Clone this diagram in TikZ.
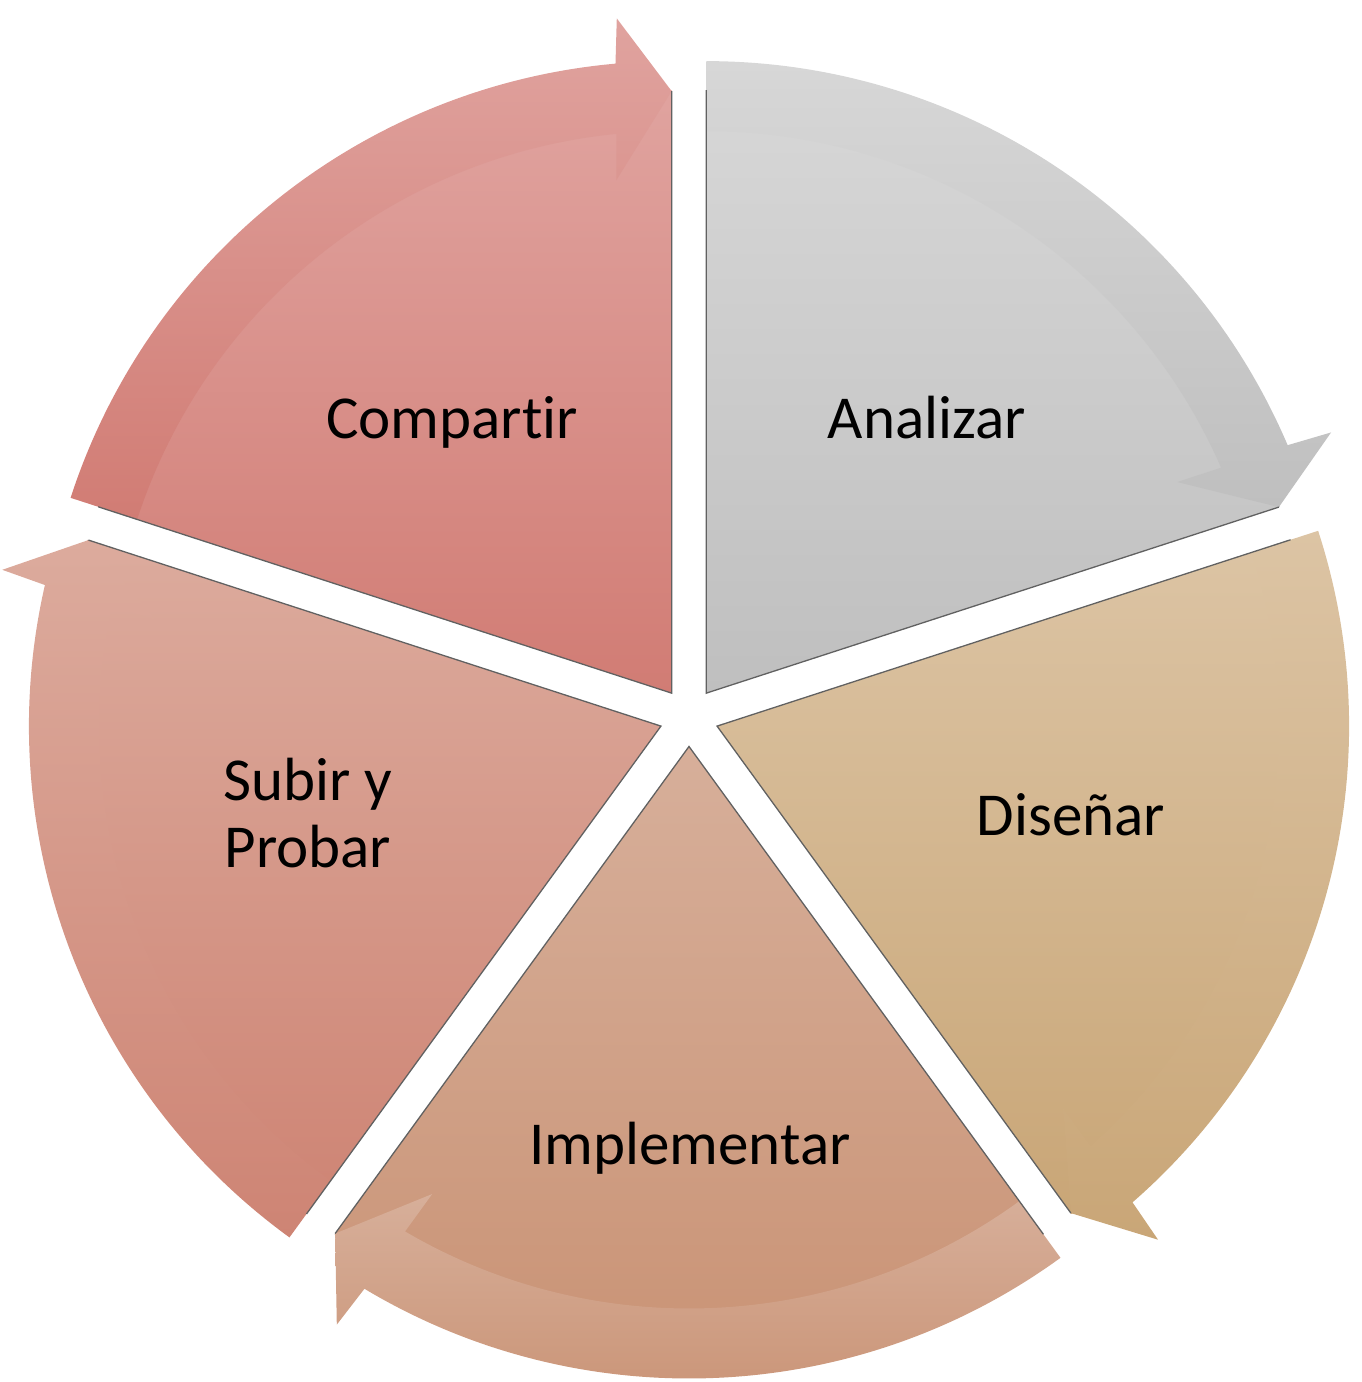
\documentclass[tikz,border=0pt]{standalone}
\usepackage{fontspec}
\setmainfont{Carlito}[Ligatures=NoCommon]
\definecolor{anaT}{HTML}{D7D7D7}
\definecolor{anaB}{HTML}{BFBFBF}
\definecolor{disT}{HTML}{DCC4A4}
\definecolor{disB}{HTML}{C9A677}
\definecolor{impT}{HTML}{D7AF9A}
\definecolor{impB}{HTML}{C99274}
\definecolor{subT}{HTML}{DCAB9D}
\definecolor{subB}{HTML}{CE8474}
\definecolor{comT}{HTML}{E0A39F}
\definecolor{comB}{HTML}{D17C74}
\begin{document}
\begin{tikzpicture}[x=1pt,y=1pt,
  edgeline/.style={draw=black!62, line width=1.3pt, line join=miter},
  seglabel/.style={font=\fontsize{61}{67}\selectfont, text=black, inner sep=0pt, align=center}]
\useasboundingbox (0,0) rectangle (1362,1382);
\coordinate (C) at (689,665);
\foreach \s/\ct/\cb in {90/anaT/anaB, 18/disT/disB, -54/impT/impB, -126/subT/subB, -198/comT/comB}{
  \pgfmathsetmacro\e{\s-72}
  \pgfmathsetmacro\b{\s-36}
  \begin{scope}[shift={(C)}, shift={(\b:29.5pt)}]
    % pie segment
    \shade[top color=\ct, bottom color=\cb]
      (0,0) -- (\s:603pt) arc[start angle=\s, end angle=\e, radius=603pt] -- cycle;
    % circular arrow band
    \shade[top color=\ct, bottom color=\cb]
      (\s:632pt) arc[start angle=\s, end angle={\e+5.1}, radius=632pt]
      -- ({\e+4.65}:677pt) -- (\e:602pt) -- ({\e+6.15}:516pt)
      -- ({\e+5.65}:562pt) arc[start angle={\e+5.65}, end angle=\s, radius=562pt] -- cycle;
    % dark edges of the pie
    \draw[edgeline] (\s:603pt) -- (0,0) -- (\e:602pt);
  \end{scope}
}
\node[seglabel, anchor=base] (analizar) at (927,943) {Analizar};
\node[seglabel, anchor=base] (compartir) at (452,943) {Compartir};
\node[seglabel, anchor=base] (disenar) at (1071,546) {Diseñar};
\node[seglabel, anchor=base] (implementar) at (690,217) {Implementar};
\node[seglabel, anchor=base] (subir) at (308,514) {Subir y\\Probar};
\end{tikzpicture}
\end{document}
